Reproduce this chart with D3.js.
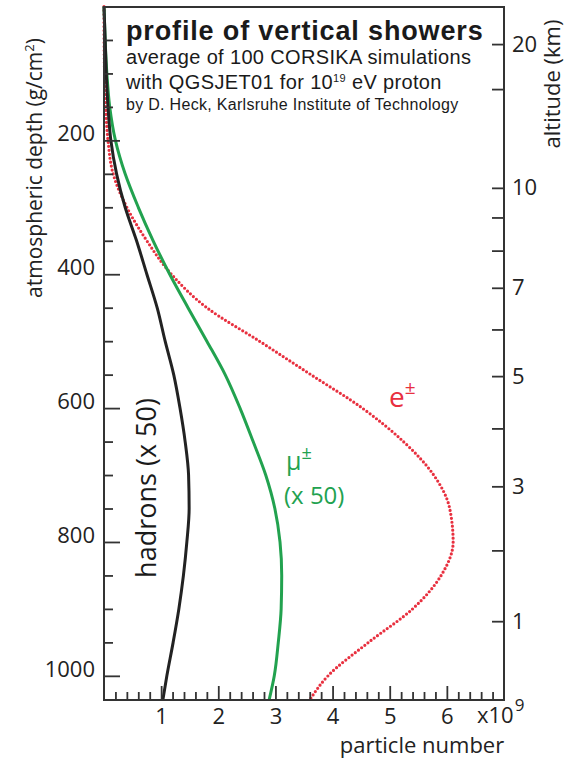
<!DOCTYPE html>
<html>
<head>
<meta charset="utf-8">
<script src="https://cdn.jsdelivr.net/npm/d3@7"></script>
<style>
  body { margin: 0; background: #fff; }
  svg { display: block; }
</style>
</head>
<body>
<script>
// atmospheric depth (g/cm2) grid, shared by all three profiles
var depthGrid = [0, 50, 100, 150, 200, 250, 300, 350, 400, 450, 500, 550, 600, 650, 700, 750, 800, 850, 900, 950, 1000, 1036];
// particle numbers in units of 10^9
var electrons = [0, 0.002, 0.01, 0.03, 0.07, 0.16, 0.40, 0.75, 1.18, 1.80, 2.72, 3.62, 4.52, 5.24, 5.77, 6.05, 6.11, 5.90, 5.40, 4.63, 3.92, 3.60];
var muons50 = [0, 0.02, 0.05, 0.10, 0.20, 0.37, 0.60, 0.86, 1.15, 1.47, 1.80, 2.12, 2.38, 2.61, 2.83, 2.99, 3.08, 3.11, 3.10, 3.05, 2.98, 2.89];
var hadrons50 = [0, 0.02, 0.04, 0.07, 0.12, 0.22, 0.37, 0.57, 0.75, 0.93, 1.07, 1.22, 1.33, 1.42, 1.48, 1.49, 1.45, 1.39, 1.31, 1.21, 1.10, 1.03];

var depthTicks = [200, 400, 600, 800, 1000];
var numberTicks = [1, 2, 3, 4, 5, 6];
var altLabels = [20, 10, 7, 5, 3, 1];
var altMinor = [15, 9, 8, 6, 4, 2];

var svg = d3.select('body').append('svg').attr('width', 572).attr('height', 760);

var plotLeft = 104, plotRight = 504, plotTop = 7, plotBottom = 700;
var x = d3.scaleLinear().domain([0, 7]).range([plotLeft, plotRight]);
var y = d3.scaleLinear().domain([0, 1036.1]).range([6.5, plotBottom]);

// US standard atmosphere as used by CORSIKA (Linsley layers), altitude km -> depth g/cm2
var layerTop = [4, 10, 40, 100];
var la = [-186.555305, -94.919, 0.61289, 0];
var lb = [1222.6562, 1144.9069, 1305.5948, 540.1778];
var lc = [9.9418638, 8.7815355, 6.3614304, 7.7217016];
function depthAt(h) {
  var i = 0;
  while (i < 3 && h > layerTop[i]) i++;
  return la[i] + lb[i] * Math.exp(-h / lc[i]);
}

var axisColor = '#333';
var tickFont = '"Open Sans", "Noto Sans", sans-serif';
var red = '#e8303f', green = '#22a24f';

// curves
function series(vals) {
  return depthGrid.map(function(d, i) { return [d, vals[i]]; });
}
var line = d3.line()
  .x(function(d) { return x(d[1]); })
  .y(function(d) { return y(d[0]); })
  .curve(d3.curveMonotoneY);

svg.append('path').datum(series(electrons))
  .attr('d', line).attr('fill', 'none')
  .attr('stroke', red).attr('stroke-width', 3.2)
  .attr('stroke-linecap', 'round').attr('stroke-dasharray', '0,4');
svg.append('path').datum(series(muons50))
  .attr('d', line).attr('fill', 'none')
  .attr('stroke', green).attr('stroke-width', 3);
svg.append('path').datum(series(hadrons50))
  .attr('d', line).attr('fill', 'none')
  .attr('stroke', '#222').attr('stroke-width', 3);

// left axis
var minorDepth = d3.range(1, 21).map(function(i) { return i * 50; }).filter(function(d) { return d % 200; });
svg.append('g').attr('transform', 'translate(' + plotLeft + ',0)')
  .call(d3.axisLeft(y).tickValues(minorDepth).tickSize(-9).tickFormat(''))
  .call(function(g) { g.select('.domain').remove(); });
var gl = svg.append('g').attr('transform', 'translate(' + plotLeft + ',0)')
  .call(d3.axisLeft(y).tickValues(depthTicks).tickSize(-16).tickPadding(9).tickFormat(d3.format('d')));
gl.select('.domain').remove();
gl.selectAll('text').attr('dy', '0.02em').style('font-family', tickFont).style('font-size', '22px').attr('fill', '#222');

// bottom axis
var minorNum = d3.range(1, 35).filter(function(i) { return i % 5; }).map(function(i) { return i / 5; });
svg.append('g').attr('transform', 'translate(0,' + plotBottom + ')')
  .call(d3.axisBottom(x).tickValues(minorNum).tickSize(-8).tickFormat(''))
  .call(function(g) { g.select('.domain').remove(); });
var gb = svg.append('g').attr('transform', 'translate(0,' + plotBottom + ')')
  .call(d3.axisBottom(x).tickValues(numberTicks).tickSize(-14).tickPadding(8).tickFormat(d3.format('d')));
gb.select('.domain').remove();
gb.selectAll('text').style('font-family', tickFont).style('font-size', '22px').attr('fill', '#222');

svg.selectAll('.tick line').attr('stroke', axisColor).attr('stroke-width', 1.8);

// right axis (altitude)
var altAll = altLabels.concat(altMinor);
svg.append('g').selectAll('line').data(altAll).enter().append('line')
  .attr('x1', plotRight - 12).attr('x2', plotRight)
  .attr('y1', function(h) { return y(depthAt(h)); })
  .attr('y2', function(h) { return y(depthAt(h)); })
  .attr('stroke', axisColor).attr('stroke-width', 1.8);
svg.append('g').selectAll('text').data(altLabels).enter().append('text')
  .attr('x', plotRight + 8)
  .attr('y', function(h) { return y(depthAt(h)) + 7; })
  .style('font-family', tickFont).style('font-size', '22px').attr('fill', '#222')
  .text(function(h) { return h; });

// frame
svg.append('rect').attr('x', plotLeft).attr('y', plotTop)
  .attr('width', plotRight - plotLeft).attr('height', plotBottom - plotTop)
  .attr('fill', 'none').attr('stroke', axisColor).attr('stroke-width', 2);

// axis titles
var yt = svg.append('text').attr('transform', 'translate(42,168) rotate(-90)')
  .attr('text-anchor', 'middle').style('font-family', tickFont).style('font-size', '21px').attr('fill', '#222')
  .text('atmospheric depth (g/cm');
yt.append('tspan').attr('dy', -8).style('font-size', '13px').text('2');
yt.append('tspan').attr('dy', 8).text(')');
svg.append('text').attr('transform', 'translate(560,84) rotate(-90)')
  .attr('text-anchor', 'middle').style('font-family', tickFont).style('font-size', '22px').attr('fill', '#222')
  .text('altitude (km)');
svg.append('text').attr('x', 422).attr('y', 753)
  .attr('text-anchor', 'middle').style('font-family', tickFont).style('font-size', '22px').attr('fill', '#222')
  .text('particle number');
var xl = svg.append('text').attr('x', 477).attr('y', 723)
  .style('font-family', tickFont).style('font-size', '22px').attr('fill', '#222')
  .text('x10');
xl.append('tspan').attr('dy', -12).attr('dx', 1).style('font-size', '17px').text('9');

// title block
var titleFont = '"Liberation Sans", Arial, sans-serif';
svg.append('text').attr('x', 126).attr('y', 40)
  .style('font-family', titleFont).style('font-size', '27px').style('font-weight', 'bold')
  .style('letter-spacing', '0.85px').attr('fill', '#1a1a1a')
  .text('profile of vertical showers');
svg.append('text').attr('x', 126).attr('y', 64)
  .style('font-family', titleFont).style('font-size', '20px').style('letter-spacing', '0.35px').attr('fill', '#1a1a1a')
  .text('average of 100 CORSIKA simulations');
var t2 = svg.append('text').attr('x', 126).attr('y', 89)
  .style('font-family', titleFont).style('font-size', '20px').style('letter-spacing', '0.35px').attr('fill', '#1a1a1a')
  .text('with QGSJET01 for 10');
t2.append('tspan').attr('dy', -7).style('font-size', '11px').text('19');
t2.append('tspan').attr('dy', 7).text(' eV proton');
svg.append('text').attr('x', 126).attr('y', 110)
  .style('font-family', titleFont).style('font-size', '16px').style('letter-spacing', '0.3px').attr('fill', '#1a1a1a')
  .text('by D. Heck, Karlsruhe Institute of Technology');

// series labels
svg.append('text').attr('transform', 'translate(156,488) rotate(-90)')
  .attr('text-anchor', 'middle').style('font-family', tickFont).style('font-size', '27px').attr('fill', '#1a1a1a')
  .text('hadrons (x 50)');
var mu = svg.append('text').attr('x', 286).attr('y', 470)
  .style('font-family', tickFont).style('font-size', '25px').attr('fill', green)
  .text('μ');
mu.append('tspan').attr('dy', -11).style('font-size', '18px').text('±');
svg.append('text').attr('x', 284).attr('y', 504)
  .style('font-family', tickFont).style('font-size', '24px').attr('fill', green)
  .text('(x 50)');
var el = svg.append('text').attr('x', 389).attr('y', 407)
  .style('font-family', tickFont).style('font-size', '28px').attr('fill', red)
  .text('e');
el.append('tspan').attr('dy', -13).style('font-size', '19px').text('±');
</script>
</body>
</html>
